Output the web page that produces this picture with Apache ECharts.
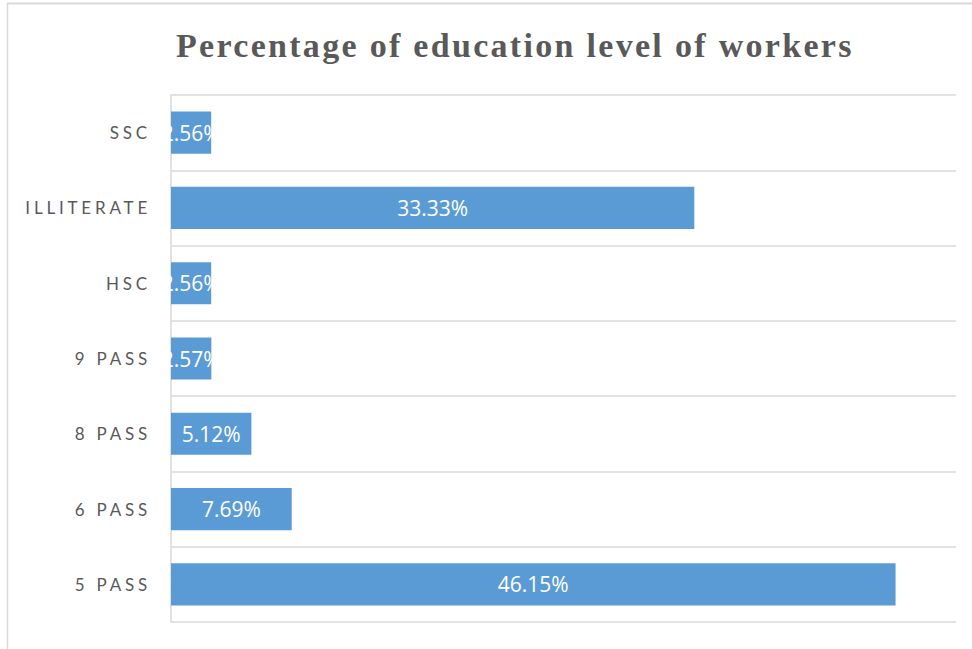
<!DOCTYPE html>
<html>
<head>
<meta charset="utf-8">
<title>Percentage of education level of workers</title>
<script src="https://cdn.jsdelivr.net/npm/echarts@6/dist/echarts.min.js"></script>
<style>
  html, body { margin: 0; padding: 0; background: #ffffff; }
  #main { width: 972px; height: 649px; }
  /* spaced-out lettering for the title and the category names */
  #main text[style*="Liberation Serif"] { letter-spacing: 2.3px; }
  #main text[style*="Lato"] { letter-spacing: 3.8px; }
</style>
</head>
<body>
<div id="main"></div>
<script>
// Education level categories, listed top to bottom
const categories = ['SSC', 'ILLITERATE', 'HSC', '9 PASS', '8 PASS', '6 PASS', '5 PASS'];
// Share of workers at each level (%)
const percentages = [2.56, 33.33, 2.56, 2.57, 5.12, 7.69, 46.15];
const chartTitle = 'Percentage of education level of workers';

const chart = echarts.init(document.getElementById('main'), null, { renderer: 'svg' });

const gray = '#595959';
const gridGray = '#d9d9d9';

chart.setOption({
  animation: false,
  backgroundColor: '#ffffff',
  title: {
    text: chartTitle,
    left: 176,
    top: 28,
    padding: 0,
    textStyle: {
      fontFamily: 'Liberation Serif',
      fontWeight: 'bold',
      fontSize: 34,
      color: gray
    }
  },
  grid: { left: 171, right: 16, top: 95, bottom: 27, containLabel: false },
  xAxis: {
    type: 'value',
    min: 0,
    max: 50,
    axisLine: { show: false },
    axisTick: { show: false },
    axisLabel: { show: false },
    splitLine: { show: false }
  },
  yAxis: {
    type: 'category',
    data: categories,
    inverse: true,
    axisLine: { show: true, lineStyle: { color: gridGray, width: 1.5 } },
    axisTick: { show: false },
    axisLabel: {
      margin: 20,
      fontFamily: 'Lato',
      fontSize: 17,
      color: gray
    },
    splitLine: { show: true, lineStyle: { color: gridGray, width: 1.5 } }
  },
  series: [{
    type: 'bar',
    data: percentages,
    barWidth: '56%',
    itemStyle: { color: '#5b9bd5' },
    label: {
      show: true,
      position: 'inside',
      formatter: p => p.value.toFixed(2) + '%',
      fontFamily: 'Open Sans',
      fontSize: 21,
      color: '#ffffff'
    }
  }],
  graphic: [
    { type: 'line', shape: { x1: 7, y1: 3.5, x2: 972, y2: 3.5 }, style: { stroke: gridGray, lineWidth: 2 } },
    { type: 'line', shape: { x1: 7.5, y1: 3, x2: 7.5, y2: 649 }, style: { stroke: gridGray, lineWidth: 1.5 } }
  ]
});
</script>
</body>
</html>
